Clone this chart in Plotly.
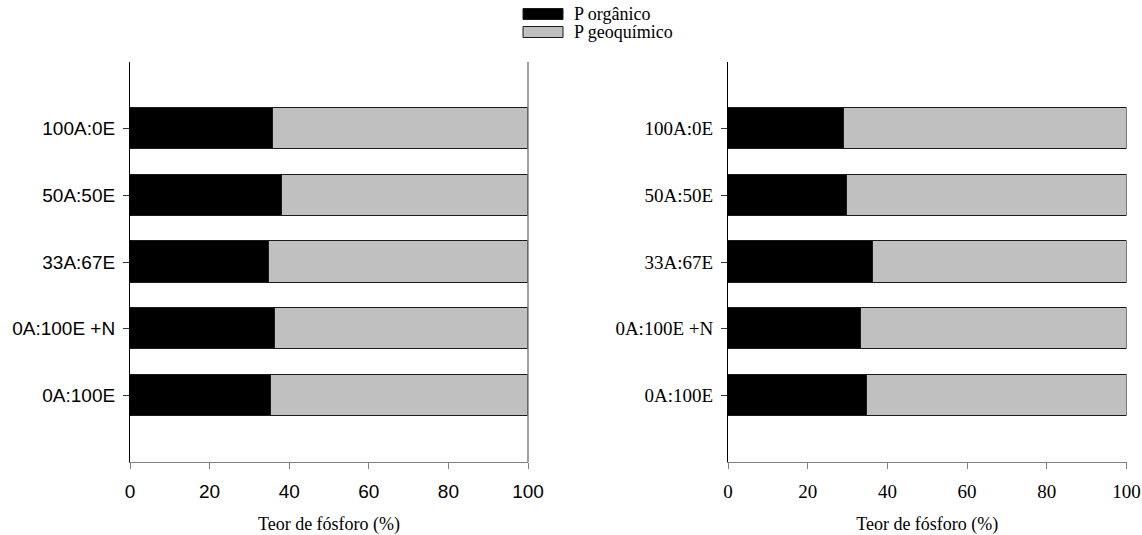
import plotly.graph_objects as go

categories = ["0A:100E", "0A:100E +N", "33A:67E", "50A:50E", "100A:0E"]
x_ticks = [0, 20, 40, 60, 80, 100]

left_organico = [35.5, 36.4, 34.8, 38.2, 35.9]
left_geoquimico = [64.5, 63.6, 65.2, 61.8, 64.1]
right_organico = [34.8, 33.4, 36.3, 29.9, 29.0]
right_geoquimico = [65.2, 66.6, 63.7, 70.1, 71.0]

legend_names = ["P orgânico", "P geoquímico"]
colors = ["#000000", "#C0C0C0"]

SERIF = "Liberation Serif, Times New Roman, serif"
SANS = "Liberation Sans, Arial, sans-serif"

fig = go.Figure()
for vals, name, col, ax in [
    (left_organico, legend_names[0], colors[0], ("x", "y")),
    (left_geoquimico, legend_names[1], colors[1], ("x", "y")),
    (right_organico, legend_names[0], colors[0], ("x2", "y2")),
    (right_geoquimico, legend_names[1], colors[1], ("x2", "y2")),
]:
    fig.add_trace(go.Bar(
        y=categories, x=vals, orientation="h", name=name,
        marker=dict(color=col, line=dict(color="#1a1a1a", width=1)),
        width=0.62, xaxis=ax[0], yaxis=ax[1], showlegend=False,
    ))

W, H = 1142, 535


def px_x(X):
    return X / W


def px_y(Y):
    return 1 - Y / H


ydom = [px_y(462), px_y(62)]
common_x = dict(range=[0, 100], tickvals=x_ticks, ticks="outside", ticklen=6,
                tickcolor="#808080", showline=True, linecolor="#808080", linewidth=1,
                showgrid=False, zeroline=False, ticklabelstandoff=6, automargin=False)
common_y = dict(type="category", categoryorder="array", categoryarray=categories,
                range=[-1, 5], ticks="outside", ticklen=6, tickcolor="#333333",
                showline=True, linecolor="#000000", linewidth=1, showgrid=False,
                zeroline=False, domain=ydom, automargin=False, ticklabelstandoff=4)

fig.update_layout(
    template="none",
    width=W, height=H,
    margin=dict(l=0, r=0, t=0, b=0, pad=0),
    plot_bgcolor="white", paper_bgcolor="white",
    barmode="stack", bargap=0,
    xaxis=dict(domain=[px_x(130), px_x(528)], anchor="y",
               tickfont=dict(family=SANS, size=19, color="#000"),
               title=dict(text="Teor de fósforo (%)", font=dict(family=SERIF, size=18, color="#000"), standoff=16),
               **common_x),
    yaxis=dict(anchor="x", tickfont=dict(family=SANS, size=19, color="#000"), **common_y),
    xaxis2=dict(domain=[px_x(728), px_x(1126.5)], anchor="y2",
                tickfont=dict(family=SERIF, size=19, color="#000"),
                title=dict(text="Teor de fósforo (%)", font=dict(family=SERIF, size=18, color="#000"), standoff=16),
                **common_x),
    yaxis2=dict(anchor="x2", tickfont=dict(family=SERIF, size=19, color="#000"), **common_y),
)

# right frame line on left panel
fig.add_shape(type="line", xref="x domain", yref="y domain", x0=1, x1=1, y0=0, y1=1,
              line=dict(color="#808080", width=1.5))

# legend (swatches + text)
for i, (name, col) in enumerate(zip(legend_names, colors)):
    yc = 14 + 18 * i
    fig.add_shape(type="rect", xref="paper", yref="paper",
                  x0=px_x(523), x1=px_x(563), y0=px_y(yc + 5.5), y1=px_y(yc - 5.5),
                  fillcolor=col, line=dict(color="#1a1a1a", width=1))
    fig.add_annotation(xref="paper", yref="paper", x=px_x(572), y=px_y(yc),
                       xanchor="left", yanchor="middle", showarrow=False,
                       text=name, font=dict(family=SERIF, size=18, color="#000"))

fig.write_html(
    "out.html",
    config={"displayModeBar": False},
    post_script="document.body.style.margin='0';document.body.style.overflow='hidden';",
)
